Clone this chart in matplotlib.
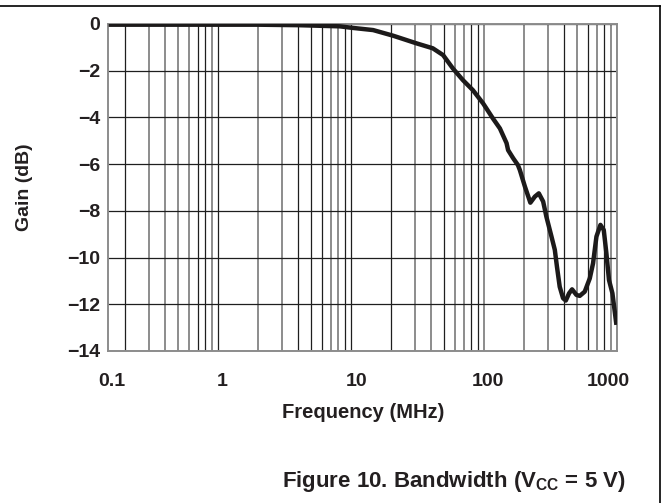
import matplotlib
matplotlib.use("Agg")
import matplotlib.pyplot as plt
import matplotlib.transforms as mtransforms
from matplotlib.lines import Line2D

plt.rcParams['font.family'] = ['Liberation Sans', 'DejaVu Sans']
plt.rcParams['font.weight'] = 'bold'
plt.rcParams['mathtext.fontset'] = 'custom'
plt.rcParams['mathtext.rm'] = 'Liberation Sans:bold'
plt.rcParams['mathtext.bf'] = 'Liberation Sans:bold'

# curve (MHz, dB)
freq = [0.15, 0.5, 1, 2, 4, 8.2, 10, 14.6, 20.6, 31, 41, 49, 58, 69, 82, 98,
        116, 131, 147, 151, 165, 179, 185, 202, 222, 240, 257, 277, 293, 320,
        339, 352, 369, 391, 410, 434, 457, 493, 522, 569, 621, 657, 697, 747,
        791, 828, 866, 919, 985]
gain = [-0.03, -0.03, -0.03, -0.03, -0.05, -0.1, -0.16, -0.26, -0.5, -0.83,
        -1.04, -1.33, -1.9, -2.4, -2.83, -3.4, -4.04, -4.47, -5.1, -5.4,
        -5.75, -6.04, -6.25, -6.96, -7.65, -7.39, -7.25, -7.6, -8.25, -9.1,
        -9.67, -10.4, -11.25, -11.74, -11.84, -11.53, -11.36, -11.6, -11.64,
        -11.46, -10.89, -10.25, -9.1, -8.6, -8.82, -9.82, -10.96, -11.53,
        -12.88]

x_min, x_max = 0.149, 1000
x_ticks = [x_min, 1, 10, 100, 1000]
x_ticklabels = ['0.1', '1', '10', '100', '1000']
y_ticks = [0, -2, -4, -6, -8, -10, -12, -14]

# vertical grid lines and whether they print dark or grey in the scan
grid_f = [m * 10.0 ** d for d in range(-1, 3) for m in range(2, 11)]
grid_dark = [1, 0, 0, 0, 0, 1, 1, 0, 1,
             0, 0, 1, 1, 1, 0, 0, 1, 1,
             1, 0, 0, 1, 0, 0, 1, 1, 0,
             0, 0, 1, 0, 1, 0, 1, 0, 0]

fig = plt.figure(figsize=(6.69, 5.03), dpi=100)
ax = fig.add_axes([108.3 / 669, 152 / 503, 509 / 669, 327 / 503])

for f, dk in zip(grid_f, grid_dark):
    if dk:
        ax.axvline(f, color='#1e1e1e', lw=0.9, zorder=1)
    else:
        ax.axvline(f, color='#8c8c8c', lw=1.4, zorder=1)
for yv in y_ticks:
    ax.axhline(yv, color='#1e1e1e', lw=0.9, zorder=1)

ax.plot(freq, gain, color='#1c1a1a', lw=3.2, solid_capstyle='butt', zorder=3)

ax.set_xscale('log')
ax.set_xlim(x_min, x_max)
ax.set_ylim(-14, 0)
ax.set_xticks(x_ticks)
ax.set_xticklabels(x_ticklabels)
ax.xaxis.set_minor_locator(matplotlib.ticker.NullLocator())
ax.set_yticks(y_ticks)
ax.set_yticklabels([str(v).replace('-', '\u2212') for v in y_ticks])
ax.tick_params(length=0, labelsize=14, colors='#231f20')
ax.tick_params(axis='x', pad=16)
ax.tick_params(axis='y', pad=6)
for s in ax.spines.values():
    s.set_color('#8c8c8c')
    s.set_linewidth(1.4)

# nudge x labels the way they sit in the original
x_shift = [4, 4, 5, 4, -9]
for lbl, dx in zip(ax.get_xticklabels(), x_shift):
    lbl.set_transform(lbl.get_transform() +
                      mtransforms.ScaledTranslation(dx / 100, 0, fig.dpi_scale_trans))

ax.set_xlabel('Frequency (MHz)', fontsize=14.5, fontweight='bold', color='#231f20', labelpad=9)
ax.set_ylabel('Gain (dB)', fontsize=14, fontweight='bold', color='#231f20')
ax.yaxis.set_label_coords(-0.148, 0.5)

fig.text(454 / 669, 1 - 482 / 503, r'Figure 10. Bandwidth (V$_{\mathrm{CC}}$ = 5 V)',
         ha='center', va='center', fontsize=16, fontweight='bold', color='#231f20')

# page frame lines
fig.add_artist(Line2D([0, 660 / 669], [1 - 6 / 503, 1 - 6 / 503], color='black', lw=1.2,
                      transform=fig.transFigure))
fig.add_artist(Line2D([660 / 669, 660 / 669], [0, 1 - 6 / 503], color='black', lw=1.2,
                      transform=fig.transFigure))

fig.savefig('out.png', dpi=100)
